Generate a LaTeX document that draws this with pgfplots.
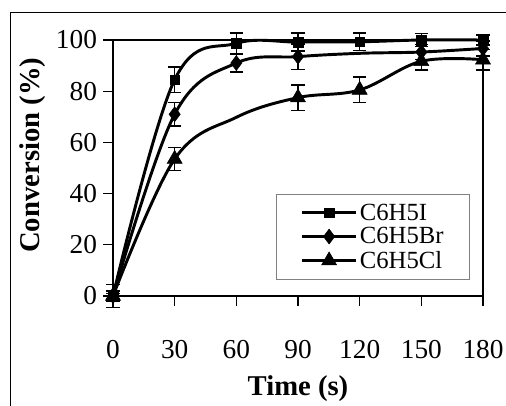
\documentclass[border=0pt]{standalone}
\usepackage{fontspec}
\setmainfont{Liberation Serif}
\usepackage{pgfplots}
\pgfplotsset{compat=1.18}

% 1 px of the reference = 0.75pt
\pgfplotsset{
  curve/.style={black, line width=2.2pt, smooth, tension=0.6, mark=none, forget plot},
  pts/.style={black, line width=2.2pt, only marks, mark options={solid, line width=0.4pt},
    error bars/y dir=both, error bars/y explicit,
    error bars/error bar style={line width=1.1pt, black},
    error bars/error mark options={rotate=90, mark size=5pt, line width=1.1pt, black}},
}

\begin{document}
\begin{tikzpicture}
\useasboundingbox (-84.75pt,-81.75pt) rectangle (294.75pt,222pt);
\clip (-84.75pt,-81.75pt) rectangle (294.75pt,222pt);
\begin{axis}[
    at={(0,0)}, anchor=south west,
    scale only axis,
    width=277.5pt, height=192pt,
    xmin=0, xmax=180, ymin=0, ymax=100,
    xtick={0,30,...,180},
    ytick={0,20,...,100},
    axis line style={line width=1pt},
    tick align=outside,
    major tick length=7.5pt,
    tick style={line width=1pt, black},
    xtick pos=bottom, ytick pos=left,
    /pgf/number format/assume math mode=true,
    ticklabel style={font=\fontsize{20.5}{24}\selectfont},
    xticklabel style={yshift=-22pt},
    yticklabel style={xshift=-1pt},
    every axis x label/.style={at={(rel axis cs:0.5,-0.362)}, anchor=center},
    every axis y label/.style={at={(rel axis cs:-0.216,0.55)}, anchor=center, rotate=90},
    label style={font=\fontsize{21.5}{25}\selectfont\bfseries},
    xlabel={Time (s)},
    ylabel={Conversion (\%)},
    clip=false,
    legend style={at={(rel axis cs:0.965,0.0625)}, anchor=south east,
      draw=gray, line width=0.8pt, inner xsep=18pt, inner ysep=5pt,
      font=\fontsize{18.5}{21}\selectfont,
      nodes={inner xsep=1.5pt, inner ysep=2pt}},
    legend cell align=left,
    legend image code/.code={
      \draw[#1, mark=none] (0pt,0pt) -- (41pt,0pt);
      \draw[#1] plot coordinates {(20.5pt,0pt)};
    },
]
% smoothed lines (Excel style)
\addplot[curve] coordinates {(0,0)(30,84.5)(60,98.7)(90,99.2)(120,99.3)(150,100)(180,100)};
\addplot[curve] coordinates {(0,0)(30,71)(60,91)(90,93.5)(120,94.8)(150,95.3)(180,96.7)};
\addplot[curve] coordinates {(0,0)(30,53.5)(60,69.8)(90,77.5)(120,80.5)(150,91.7)(180,92.3)};

% markers with error bars
\addplot[pts, mark=square*, mark size=3.6pt] coordinates {
  (0,0) +- (0,4.5)
  (30,84.5) +- (0,5)
  (60,98.7) +- (0,4)
  (90,99.2) +- (0,3.5)
  (120,99.3) +- (0,3.5)
  (150,100) +- (0,2.5)
  (180,100) +- (0,2)
};
\addlegendentry{C6H5I}
\addplot[pts, mark=diamond*, mark size=5.6pt] coordinates {
  (0,0) +- (0,2)
  (30,71) +- (0,4.5)
  (60,91) +- (0,3.5)
  (90,93.5) +- (0,5)
  (150,95.3) +- (0,3)
  (180,96.7) +- (0,3)
};
\addlegendentry{C6H5Br}
\addplot[pts, mark=triangle*, mark size=6.5pt] coordinates {
  (0,0) +- (0,1)
  (30,53.5) +- (0,4.5)
  (90,77.5) +- (0,5)
  (120,80.5) +- (0,5)
  (150,91.7) +- (0,3.5)
  (180,92.3) +- (0,4)
};
\addlegendentry{C6H5Cl}
\end{axis}
\draw[line width=0.75pt] (-76.5pt,-120pt) rectangle (330pt,213pt);
\end{tikzpicture}
\end{document}
